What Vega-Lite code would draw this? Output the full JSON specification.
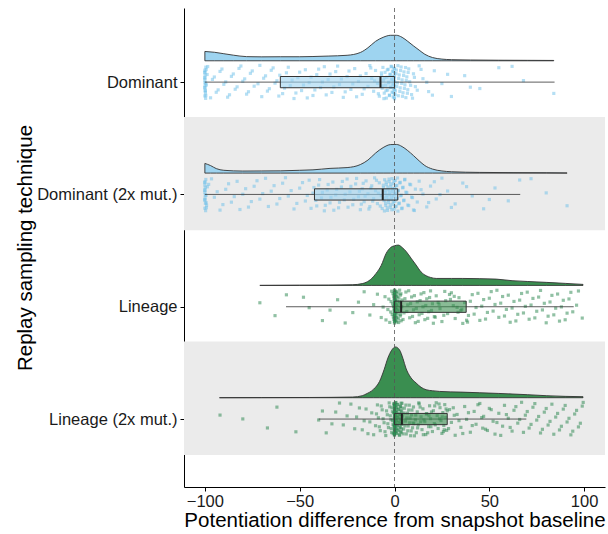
{
"$schema":"https://vega.github.io/schema/vega-lite/v6.json",
"width":421,"height":479,
"autosize":{"type":"none"},
"padding":{"left":184,"top":8,"right":3,"bottom":47},
"background":"white",
"config":{"view":{"stroke":null},"font":"Liberation Sans"},
"datasets":{
"bands":[{"cat":"Dominant (2x mut.)"},{"cat":"Lineage (2x mut.)"}],
"boxes":[
{"cat":"Dominant","lo":-100,"q1":-60.2,"med":-7.4,"q3":0,"hi":84.4},
{"cat":"Dominant (2x mut.)","lo":-100,"q1":-42.2,"med":-6.2,"q3":1.7,"hi":66.3},
{"cat":"Lineage","lo":-57.2,"q1":0,"med":3.5,"q3":37.8,"hi":94.5},
{"cat":"Lineage (2x mut.)","lo":-40,"q1":0,"med":3.9,"q3":27.8,"hi":69.5}],
"density":[
{"cat":"Dominant","x":-100,"d":0.0083},{"cat":"Dominant","x":-95,"d":0.0076},{"cat":"Dominant","x":-90,"d":0.0063},{"cat":"Dominant","x":-85,"d":0.005},{"cat":"Dominant","x":-78,"d":0.0037},{"cat":"Dominant","x":-70,"d":0.0035},{"cat":"Dominant","x":-60,"d":0.0036},{"cat":"Dominant","x":-50,"d":0.0036},{"cat":"Dominant","x":-43,"d":0.0038},{"cat":"Dominant","x":-35,"d":0.0042},{"cat":"Dominant","x":-25,"d":0.0049},{"cat":"Dominant","x":-18,"d":0.0074},{"cat":"Dominant","x":-14,"d":0.0116},{"cat":"Dominant","x":-10,"d":0.0173},{"cat":"Dominant","x":-6,"d":0.0209},{"cat":"Dominant","x":-2,"d":0.0227},{"cat":"Dominant","x":1,"d":0.0227},{"cat":"Dominant","x":4,"d":0.0209},{"cat":"Dominant","x":7,"d":0.0173},{"cat":"Dominant","x":10,"d":0.0133},{"cat":"Dominant","x":13,"d":0.0095},{"cat":"Dominant","x":16,"d":0.0058},{"cat":"Dominant","x":20,"d":0.0029},{"cat":"Dominant","x":25,"d":0.0015},{"cat":"Dominant","x":30,"d":0.001},{"cat":"Dominant","x":40,"d":0.0007},{"cat":"Dominant","x":55,"d":0.0005},{"cat":"Dominant","x":70,"d":0.0004},{"cat":"Dominant","x":84,"d":0.0003},
{"cat":"Dominant (2x mut.)","x":-100,"d":0.0086},{"cat":"Dominant (2x mut.)","x":-97,"d":0.0067},{"cat":"Dominant (2x mut.)","x":-94,"d":0.004},{"cat":"Dominant (2x mut.)","x":-90,"d":0.0025},{"cat":"Dominant (2x mut.)","x":-80,"d":0.0018},{"cat":"Dominant (2x mut.)","x":-70,"d":0.0019},{"cat":"Dominant (2x mut.)","x":-60,"d":0.002},{"cat":"Dominant (2x mut.)","x":-50,"d":0.0025},{"cat":"Dominant (2x mut.)","x":-43,"d":0.0029},{"cat":"Dominant (2x mut.)","x":-34,"d":0.0042},{"cat":"Dominant (2x mut.)","x":-25,"d":0.0049},{"cat":"Dominant (2x mut.)","x":-18,"d":0.0076},{"cat":"Dominant (2x mut.)","x":-14,"d":0.0116},{"cat":"Dominant (2x mut.)","x":-10,"d":0.0178},{"cat":"Dominant (2x mut.)","x":-6,"d":0.0227},{"cat":"Dominant (2x mut.)","x":-2,"d":0.0254},{"cat":"Dominant (2x mut.)","x":1,"d":0.0255},{"cat":"Dominant (2x mut.)","x":4,"d":0.0236},{"cat":"Dominant (2x mut.)","x":7,"d":0.02},{"cat":"Dominant (2x mut.)","x":10,"d":0.0156},{"cat":"Dominant (2x mut.)","x":13,"d":0.0109},{"cat":"Dominant (2x mut.)","x":16,"d":0.0067},{"cat":"Dominant (2x mut.)","x":20,"d":0.0036},{"cat":"Dominant (2x mut.)","x":25,"d":0.0019},{"cat":"Dominant (2x mut.)","x":30,"d":0.0012},{"cat":"Dominant (2x mut.)","x":45,"d":0.0006},{"cat":"Dominant (2x mut.)","x":63,"d":0.0004},{"cat":"Dominant (2x mut.)","x":80,"d":0.0003},{"cat":"Dominant (2x mut.)","x":91,"d":0.0001},
{"cat":"Lineage","x":-71,"d":0},{"cat":"Lineage","x":-50,"d":0.0002},{"cat":"Lineage","x":-35,"d":0.0003},{"cat":"Lineage","x":-22,"d":0.0006},{"cat":"Lineage","x":-17,"d":0.0016},{"cat":"Lineage","x":-15,"d":0.0027},{"cat":"Lineage","x":-12,"d":0.0062},{"cat":"Lineage","x":-9.7,"d":0.0107},{"cat":"Lineage","x":-7,"d":0.0178},{"cat":"Lineage","x":-4.4,"d":0.0285},{"cat":"Lineage","x":-2,"d":0.0338},{"cat":"Lineage","x":0,"d":0.0353},{"cat":"Lineage","x":2,"d":0.0359},{"cat":"Lineage","x":4,"d":0.0338},{"cat":"Lineage","x":6,"d":0.0305},{"cat":"Lineage","x":9,"d":0.0236},{"cat":"Lineage","x":11.4,"d":0.0181},{"cat":"Lineage","x":14,"d":0.012},{"cat":"Lineage","x":16.7,"d":0.0086},{"cat":"Lineage","x":19,"d":0.0071},{"cat":"Lineage","x":22,"d":0.0062},{"cat":"Lineage","x":30,"d":0.0062},{"cat":"Lineage","x":36,"d":0.0062},{"cat":"Lineage","x":45,"d":0.006},{"cat":"Lineage","x":53.6,"d":0.0056},{"cat":"Lineage","x":62,"d":0.0042},{"cat":"Lineage","x":70,"d":0.0035},{"cat":"Lineage","x":80,"d":0.0027},{"cat":"Lineage","x":90,"d":0.0018},{"cat":"Lineage","x":99.4,"d":0.0009},
{"cat":"Lineage (2x mut.)","x":-92.3,"d":0},{"cat":"Lineage (2x mut.)","x":-70,"d":0.0001},{"cat":"Lineage (2x mut.)","x":-45,"d":0.0002},{"cat":"Lineage (2x mut.)","x":-22,"d":0.0006},{"cat":"Lineage (2x mut.)","x":-17,"d":0.0018},{"cat":"Lineage (2x mut.)","x":-15,"d":0.0033},{"cat":"Lineage (2x mut.)","x":-11,"d":0.0076},{"cat":"Lineage (2x mut.)","x":-7.9,"d":0.0145},{"cat":"Lineage (2x mut.)","x":-5.5,"d":0.0249},{"cat":"Lineage (2x mut.)","x":-3.5,"d":0.0353},{"cat":"Lineage (2x mut.)","x":-1.5,"d":0.0423},{"cat":"Lineage (2x mut.)","x":0.5,"d":0.0452},{"cat":"Lineage (2x mut.)","x":2.6,"d":0.0427},{"cat":"Lineage (2x mut.)","x":4.5,"d":0.0347},{"cat":"Lineage (2x mut.)","x":6,"d":0.0264},{"cat":"Lineage (2x mut.)","x":8.5,"d":0.0182},{"cat":"Lineage (2x mut.)","x":11.4,"d":0.0131},{"cat":"Lineage (2x mut.)","x":14,"d":0.0093},{"cat":"Lineage (2x mut.)","x":16.7,"d":0.0071},{"cat":"Lineage (2x mut.)","x":20,"d":0.0062},{"cat":"Lineage (2x mut.)","x":23.7,"d":0.0056},{"cat":"Lineage (2x mut.)","x":35,"d":0.005},{"cat":"Lineage (2x mut.)","x":45,"d":0.0044},{"cat":"Lineage (2x mut.)","x":55,"d":0.0038},{"cat":"Lineage (2x mut.)","x":62,"d":0.0033},{"cat":"Lineage (2x mut.)","x":70,"d":0.0027},{"cat":"Lineage (2x mut.)","x":80,"d":0.0018},{"cat":"Lineage (2x mut.)","x":90,"d":0.0012},{"cat":"Lineage (2x mut.)","x":99.4,"d":0.0009}],
"points":[
{"cat":"Dominant","x":-100},{"cat":"Dominant","x":-99.8},{"cat":"Dominant","x":-100},{"cat":"Dominant","x":-99.6},{"cat":"Dominant","x":-100},{"cat":"Dominant","x":-99.9},{"cat":"Dominant","x":-100},{"cat":"Dominant","x":-99.5},{"cat":"Dominant","x":-100},{"cat":"Dominant","x":-99.7},{"cat":"Dominant","x":-100},{"cat":"Dominant","x":-99.2},
{"cat":"Dominant","x":-97},{"cat":"Dominant","x":-95},{"cat":"Dominant","x":-93},{"cat":"Dominant","x":-91},{"cat":"Dominant","x":-89},{"cat":"Dominant","x":-87},{"cat":"Dominant","x":-85},{"cat":"Dominant","x":-83},{"cat":"Dominant","x":-81},{"cat":"Dominant","x":-79},{"cat":"Dominant","x":-77},{"cat":"Dominant","x":-75},{"cat":"Dominant","x":-72},{"cat":"Dominant","x":-70},{"cat":"Dominant","x":-68},{"cat":"Dominant","x":-66},{"cat":"Dominant","x":-64},{"cat":"Dominant","x":-62},
{"cat":"Dominant","x":-59},{"cat":"Dominant","x":-57},{"cat":"Dominant","x":-55},{"cat":"Dominant","x":-53},{"cat":"Dominant","x":-51},{"cat":"Dominant","x":-49},{"cat":"Dominant","x":-47},{"cat":"Dominant","x":-45},{"cat":"Dominant","x":-43},{"cat":"Dominant","x":-41},{"cat":"Dominant","x":-39},{"cat":"Dominant","x":-37},{"cat":"Dominant","x":-35},{"cat":"Dominant","x":-33},{"cat":"Dominant","x":-31},{"cat":"Dominant","x":-29},{"cat":"Dominant","x":-27},{"cat":"Dominant","x":-25},{"cat":"Dominant","x":-23},{"cat":"Dominant","x":-21},{"cat":"Dominant","x":-19},{"cat":"Dominant","x":-17},{"cat":"Dominant","x":-15},{"cat":"Dominant","x":-14},{"cat":"Dominant","x":-13},{"cat":"Dominant","x":-12},{"cat":"Dominant","x":-11},{"cat":"Dominant","x":-10},{"cat":"Dominant","x":-9},{"cat":"Dominant","x":-8},
{"cat":"Dominant","x":-6.8},{"cat":"Dominant","x":-6.5},{"cat":"Dominant","x":-6.1},{"cat":"Dominant","x":-5.8},{"cat":"Dominant","x":-5.4},{"cat":"Dominant","x":-5},{"cat":"Dominant","x":-4.7},{"cat":"Dominant","x":-4.3},{"cat":"Dominant","x":-4},{"cat":"Dominant","x":-3.6},{"cat":"Dominant","x":-3.3},{"cat":"Dominant","x":-3},{"cat":"Dominant","x":-2.7},{"cat":"Dominant","x":-2.4},{"cat":"Dominant","x":-2.1},{"cat":"Dominant","x":-1.8},{"cat":"Dominant","x":-1.6},{"cat":"Dominant","x":-1.3},{"cat":"Dominant","x":-1.1},{"cat":"Dominant","x":-0.9},{"cat":"Dominant","x":-0.7},{"cat":"Dominant","x":-0.5},{"cat":"Dominant","x":-0.4},{"cat":"Dominant","x":-0.3},{"cat":"Dominant","x":-0.2},{"cat":"Dominant","x":-0.1},{"cat":"Dominant","x":0},{"cat":"Dominant","x":0},{"cat":"Dominant","x":0},{"cat":"Dominant","x":0},
{"cat":"Dominant","x":0.5},{"cat":"Dominant","x":1},{"cat":"Dominant","x":1.5},{"cat":"Dominant","x":2},{"cat":"Dominant","x":2.5},{"cat":"Dominant","x":3},{"cat":"Dominant","x":3.5},{"cat":"Dominant","x":4},{"cat":"Dominant","x":4.5},{"cat":"Dominant","x":5},{"cat":"Dominant","x":5.5},{"cat":"Dominant","x":6},{"cat":"Dominant","x":6.5},{"cat":"Dominant","x":7},{"cat":"Dominant","x":7.5},{"cat":"Dominant","x":8},{"cat":"Dominant","x":9},{"cat":"Dominant","x":10},{"cat":"Dominant","x":11},{"cat":"Dominant","x":13},{"cat":"Dominant","x":15},{"cat":"Dominant","x":18},{"cat":"Dominant","x":21},{"cat":"Dominant","x":25},{"cat":"Dominant","x":30},{"cat":"Dominant","x":37},{"cat":"Dominant","x":45},{"cat":"Dominant","x":55},{"cat":"Dominant","x":68},{"cat":"Dominant","x":84},
{"cat":"Dominant","x":-100},{"cat":"Dominant","x":-99.9},{"cat":"Dominant","x":-99.6},{"cat":"Dominant","x":-100},{"cat":"Dominant","x":-99.8},{"cat":"Dominant","x":-99.3},{"cat":"Dominant","x":-100},{"cat":"Dominant","x":-99.5},{"cat":"Dominant","x":-98.8},{"cat":"Dominant","x":-100},
{"cat":"Dominant","x":-98.5},{"cat":"Dominant","x":-96},{"cat":"Dominant","x":-94},{"cat":"Dominant","x":-92},{"cat":"Dominant","x":-90},{"cat":"Dominant","x":-88},{"cat":"Dominant","x":-86},{"cat":"Dominant","x":-84},{"cat":"Dominant","x":-82},{"cat":"Dominant","x":-80},{"cat":"Dominant","x":-78},{"cat":"Dominant","x":-76},{"cat":"Dominant","x":-74},{"cat":"Dominant","x":-71},{"cat":"Dominant","x":-69},{"cat":"Dominant","x":-67},{"cat":"Dominant","x":-65},{"cat":"Dominant","x":-63},{"cat":"Dominant","x":-61},{"cat":"Dominant","x":-60.5},
{"cat":"Dominant","x":-58},{"cat":"Dominant","x":-56},{"cat":"Dominant","x":-54},{"cat":"Dominant","x":-52},{"cat":"Dominant","x":-50},{"cat":"Dominant","x":-48},{"cat":"Dominant","x":-46},{"cat":"Dominant","x":-44},{"cat":"Dominant","x":-42},{"cat":"Dominant","x":-40},{"cat":"Dominant","x":-38},{"cat":"Dominant","x":-36},{"cat":"Dominant","x":-34},{"cat":"Dominant","x":-32},{"cat":"Dominant","x":-30},{"cat":"Dominant","x":-28},{"cat":"Dominant","x":-26},{"cat":"Dominant","x":-24},{"cat":"Dominant","x":-22},{"cat":"Dominant","x":-20},{"cat":"Dominant","x":-18},{"cat":"Dominant","x":-16},{"cat":"Dominant","x":-12.5},{"cat":"Dominant","x":-10.5},{"cat":"Dominant","x":-8.5},
{"cat":"Dominant","x":-6.9},{"cat":"Dominant","x":-6.3},{"cat":"Dominant","x":-5.6},{"cat":"Dominant","x":-5.2},{"cat":"Dominant","x":-4.5},{"cat":"Dominant","x":-3.8},{"cat":"Dominant","x":-3.1},{"cat":"Dominant","x":-2.6},{"cat":"Dominant","x":-2.2},{"cat":"Dominant","x":-1.9},{"cat":"Dominant","x":-1.5},{"cat":"Dominant","x":-1.2},{"cat":"Dominant","x":-0.8},{"cat":"Dominant","x":-0.6},{"cat":"Dominant","x":-0.3},{"cat":"Dominant","x":-0.15},{"cat":"Dominant","x":0},{"cat":"Dominant","x":0},{"cat":"Dominant","x":0},{"cat":"Dominant","x":0},
{"cat":"Dominant","x":0.3},{"cat":"Dominant","x":0.8},{"cat":"Dominant","x":1.2},{"cat":"Dominant","x":1.8},{"cat":"Dominant","x":2.2},{"cat":"Dominant","x":2.8},{"cat":"Dominant","x":3.2},{"cat":"Dominant","x":3.8},{"cat":"Dominant","x":4.2},{"cat":"Dominant","x":4.8},{"cat":"Dominant","x":5.2},{"cat":"Dominant","x":5.8},{"cat":"Dominant","x":6.2},{"cat":"Dominant","x":6.8},{"cat":"Dominant","x":7.2},{"cat":"Dominant","x":8.5},{"cat":"Dominant","x":9.5},{"cat":"Dominant","x":10.5},{"cat":"Dominant","x":12},{"cat":"Dominant","x":14},{"cat":"Dominant","x":17},{"cat":"Dominant","x":20},{"cat":"Dominant","x":28},{"cat":"Dominant","x":40},{"cat":"Dominant","x":62},
{"cat":"Dominant (2x mut.)","x":-100},{"cat":"Dominant (2x mut.)","x":-99.7},{"cat":"Dominant (2x mut.)","x":-100},{"cat":"Dominant (2x mut.)","x":-99.4},{"cat":"Dominant (2x mut.)","x":-100},{"cat":"Dominant (2x mut.)","x":-99.8},{"cat":"Dominant (2x mut.)","x":-100},{"cat":"Dominant (2x mut.)","x":-99.5},{"cat":"Dominant (2x mut.)","x":-100},{"cat":"Dominant (2x mut.)","x":-99.1},
{"cat":"Dominant (2x mut.)","x":-98},{"cat":"Dominant (2x mut.)","x":-95},{"cat":"Dominant (2x mut.)","x":-92},{"cat":"Dominant (2x mut.)","x":-89},{"cat":"Dominant (2x mut.)","x":-86},{"cat":"Dominant (2x mut.)","x":-83},{"cat":"Dominant (2x mut.)","x":-80},{"cat":"Dominant (2x mut.)","x":-77},{"cat":"Dominant (2x mut.)","x":-74},{"cat":"Dominant (2x mut.)","x":-71},{"cat":"Dominant (2x mut.)","x":-68},{"cat":"Dominant (2x mut.)","x":-65},{"cat":"Dominant (2x mut.)","x":-62},{"cat":"Dominant (2x mut.)","x":-59},{"cat":"Dominant (2x mut.)","x":-56},{"cat":"Dominant (2x mut.)","x":-53},{"cat":"Dominant (2x mut.)","x":-50},{"cat":"Dominant (2x mut.)","x":-47},{"cat":"Dominant (2x mut.)","x":-45},{"cat":"Dominant (2x mut.)","x":-43},
{"cat":"Dominant (2x mut.)","x":-41},{"cat":"Dominant (2x mut.)","x":-40},{"cat":"Dominant (2x mut.)","x":-38.5},{"cat":"Dominant (2x mut.)","x":-37},{"cat":"Dominant (2x mut.)","x":-35.5},{"cat":"Dominant (2x mut.)","x":-34},{"cat":"Dominant (2x mut.)","x":-32.5},{"cat":"Dominant (2x mut.)","x":-31},{"cat":"Dominant (2x mut.)","x":-29.5},{"cat":"Dominant (2x mut.)","x":-28},{"cat":"Dominant (2x mut.)","x":-26.5},{"cat":"Dominant (2x mut.)","x":-25},{"cat":"Dominant (2x mut.)","x":-23.5},{"cat":"Dominant (2x mut.)","x":-22},{"cat":"Dominant (2x mut.)","x":-20.5},{"cat":"Dominant (2x mut.)","x":-19},{"cat":"Dominant (2x mut.)","x":-18},{"cat":"Dominant (2x mut.)","x":-17},{"cat":"Dominant (2x mut.)","x":-16},{"cat":"Dominant (2x mut.)","x":-15},{"cat":"Dominant (2x mut.)","x":-14},{"cat":"Dominant (2x mut.)","x":-13},{"cat":"Dominant (2x mut.)","x":-12},{"cat":"Dominant (2x mut.)","x":-11},{"cat":"Dominant (2x mut.)","x":-10.5},{"cat":"Dominant (2x mut.)","x":-10},{"cat":"Dominant (2x mut.)","x":-9},{"cat":"Dominant (2x mut.)","x":-8},{"cat":"Dominant (2x mut.)","x":-7},{"cat":"Dominant (2x mut.)","x":-6.5},
{"cat":"Dominant (2x mut.)","x":-5.8},{"cat":"Dominant (2x mut.)","x":-5.5},{"cat":"Dominant (2x mut.)","x":-5.2},{"cat":"Dominant (2x mut.)","x":-4.9},{"cat":"Dominant (2x mut.)","x":-4.6},{"cat":"Dominant (2x mut.)","x":-4.3},{"cat":"Dominant (2x mut.)","x":-4},{"cat":"Dominant (2x mut.)","x":-3.7},{"cat":"Dominant (2x mut.)","x":-3.4},{"cat":"Dominant (2x mut.)","x":-3.1},{"cat":"Dominant (2x mut.)","x":-2.8},{"cat":"Dominant (2x mut.)","x":-2.5},{"cat":"Dominant (2x mut.)","x":-2.2},{"cat":"Dominant (2x mut.)","x":-1.9},{"cat":"Dominant (2x mut.)","x":-1.6},{"cat":"Dominant (2x mut.)","x":-1.3},{"cat":"Dominant (2x mut.)","x":-1},{"cat":"Dominant (2x mut.)","x":-0.8},{"cat":"Dominant (2x mut.)","x":-0.6},{"cat":"Dominant (2x mut.)","x":-0.4},{"cat":"Dominant (2x mut.)","x":-0.2},{"cat":"Dominant (2x mut.)","x":0},{"cat":"Dominant (2x mut.)","x":0.2},{"cat":"Dominant (2x mut.)","x":0.4},{"cat":"Dominant (2x mut.)","x":0.6},{"cat":"Dominant (2x mut.)","x":0.9},{"cat":"Dominant (2x mut.)","x":1.2},{"cat":"Dominant (2x mut.)","x":1.5},{"cat":"Dominant (2x mut.)","x":1.8},{"cat":"Dominant (2x mut.)","x":2},
{"cat":"Dominant (2x mut.)","x":2.5},{"cat":"Dominant (2x mut.)","x":3},{"cat":"Dominant (2x mut.)","x":3.5},{"cat":"Dominant (2x mut.)","x":4},{"cat":"Dominant (2x mut.)","x":4.5},{"cat":"Dominant (2x mut.)","x":5},{"cat":"Dominant (2x mut.)","x":5.5},{"cat":"Dominant (2x mut.)","x":6},{"cat":"Dominant (2x mut.)","x":7},{"cat":"Dominant (2x mut.)","x":8},{"cat":"Dominant (2x mut.)","x":9},{"cat":"Dominant (2x mut.)","x":10},{"cat":"Dominant (2x mut.)","x":11},{"cat":"Dominant (2x mut.)","x":12},{"cat":"Dominant (2x mut.)","x":13},{"cat":"Dominant (2x mut.)","x":15},{"cat":"Dominant (2x mut.)","x":17},{"cat":"Dominant (2x mut.)","x":19},{"cat":"Dominant (2x mut.)","x":22},{"cat":"Dominant (2x mut.)","x":25},{"cat":"Dominant (2x mut.)","x":28},{"cat":"Dominant (2x mut.)","x":32},{"cat":"Dominant (2x mut.)","x":36},{"cat":"Dominant (2x mut.)","x":41},{"cat":"Dominant (2x mut.)","x":47},{"cat":"Dominant (2x mut.)","x":53},{"cat":"Dominant (2x mut.)","x":60},{"cat":"Dominant (2x mut.)","x":66},{"cat":"Dominant (2x mut.)","x":80},{"cat":"Dominant (2x mut.)","x":91},
{"cat":"Dominant (2x mut.)","x":-100},{"cat":"Dominant (2x mut.)","x":-99.9},{"cat":"Dominant (2x mut.)","x":-99.6},{"cat":"Dominant (2x mut.)","x":-100},{"cat":"Dominant (2x mut.)","x":-99.3},{"cat":"Dominant (2x mut.)","x":-100},{"cat":"Dominant (2x mut.)","x":-99.8},{"cat":"Dominant (2x mut.)","x":-99.2},{"cat":"Dominant (2x mut.)","x":-98.7},{"cat":"Dominant (2x mut.)","x":-100},
{"cat":"Dominant (2x mut.)","x":-96.5},{"cat":"Dominant (2x mut.)","x":-93.5},{"cat":"Dominant (2x mut.)","x":-90.5},{"cat":"Dominant (2x mut.)","x":-87.5},{"cat":"Dominant (2x mut.)","x":-84.5},{"cat":"Dominant (2x mut.)","x":-81.5},{"cat":"Dominant (2x mut.)","x":-78.5},{"cat":"Dominant (2x mut.)","x":-75.5},{"cat":"Dominant (2x mut.)","x":-72.5},{"cat":"Dominant (2x mut.)","x":-69.5},{"cat":"Dominant (2x mut.)","x":-66.5},{"cat":"Dominant (2x mut.)","x":-63.5},{"cat":"Dominant (2x mut.)","x":-60.5},{"cat":"Dominant (2x mut.)","x":-57.5},{"cat":"Dominant (2x mut.)","x":-54.5},{"cat":"Dominant (2x mut.)","x":-51.5},{"cat":"Dominant (2x mut.)","x":-48.5},{"cat":"Dominant (2x mut.)","x":-46},{"cat":"Dominant (2x mut.)","x":-44},{"cat":"Dominant (2x mut.)","x":-42.5},
{"cat":"Dominant (2x mut.)","x":-41.5},{"cat":"Dominant (2x mut.)","x":-39.5},{"cat":"Dominant (2x mut.)","x":-38},{"cat":"Dominant (2x mut.)","x":-36.5},{"cat":"Dominant (2x mut.)","x":-35},{"cat":"Dominant (2x mut.)","x":-33.5},{"cat":"Dominant (2x mut.)","x":-32},{"cat":"Dominant (2x mut.)","x":-30.5},{"cat":"Dominant (2x mut.)","x":-29},{"cat":"Dominant (2x mut.)","x":-27.5},{"cat":"Dominant (2x mut.)","x":-26},{"cat":"Dominant (2x mut.)","x":-24.5},{"cat":"Dominant (2x mut.)","x":-23},{"cat":"Dominant (2x mut.)","x":-21.5},{"cat":"Dominant (2x mut.)","x":-20},{"cat":"Dominant (2x mut.)","x":-18.5},{"cat":"Dominant (2x mut.)","x":-17.5},{"cat":"Dominant (2x mut.)","x":-16.5},{"cat":"Dominant (2x mut.)","x":-15.5},{"cat":"Dominant (2x mut.)","x":-13.5},{"cat":"Dominant (2x mut.)","x":-12.5},{"cat":"Dominant (2x mut.)","x":-11.5},{"cat":"Dominant (2x mut.)","x":-9.5},{"cat":"Dominant (2x mut.)","x":-8.5},{"cat":"Dominant (2x mut.)","x":-7.5},
{"cat":"Dominant (2x mut.)","x":-5.9},{"cat":"Dominant (2x mut.)","x":-5.6},{"cat":"Dominant (2x mut.)","x":-5.3},{"cat":"Dominant (2x mut.)","x":-5},{"cat":"Dominant (2x mut.)","x":-4.7},{"cat":"Dominant (2x mut.)","x":-4.4},{"cat":"Dominant (2x mut.)","x":-4.1},{"cat":"Dominant (2x mut.)","x":-3.8},{"cat":"Dominant (2x mut.)","x":-3.5},{"cat":"Dominant (2x mut.)","x":-3.2},{"cat":"Dominant (2x mut.)","x":-2.9},{"cat":"Dominant (2x mut.)","x":-2.6},{"cat":"Dominant (2x mut.)","x":-2.3},{"cat":"Dominant (2x mut.)","x":-2},{"cat":"Dominant (2x mut.)","x":-1.7},{"cat":"Dominant (2x mut.)","x":-1.4},{"cat":"Dominant (2x mut.)","x":-1.1},{"cat":"Dominant (2x mut.)","x":-0.7},{"cat":"Dominant (2x mut.)","x":-0.3},{"cat":"Dominant (2x mut.)","x":0},{"cat":"Dominant (2x mut.)","x":0.3},{"cat":"Dominant (2x mut.)","x":0.7},{"cat":"Dominant (2x mut.)","x":1.1},{"cat":"Dominant (2x mut.)","x":1.6},{"cat":"Dominant (2x mut.)","x":1.9},
{"cat":"Dominant (2x mut.)","x":2.3},{"cat":"Dominant (2x mut.)","x":2.8},{"cat":"Dominant (2x mut.)","x":3.3},{"cat":"Dominant (2x mut.)","x":3.8},{"cat":"Dominant (2x mut.)","x":4.3},{"cat":"Dominant (2x mut.)","x":4.8},{"cat":"Dominant (2x mut.)","x":5.3},{"cat":"Dominant (2x mut.)","x":6.5},{"cat":"Dominant (2x mut.)","x":7.5},{"cat":"Dominant (2x mut.)","x":8.5},{"cat":"Dominant (2x mut.)","x":9.5},{"cat":"Dominant (2x mut.)","x":10.5},{"cat":"Dominant (2x mut.)","x":14},{"cat":"Dominant (2x mut.)","x":18},{"cat":"Dominant (2x mut.)","x":21},{"cat":"Dominant (2x mut.)","x":24},{"cat":"Dominant (2x mut.)","x":30},{"cat":"Dominant (2x mut.)","x":38},{"cat":"Dominant (2x mut.)","x":50},{"cat":"Dominant (2x mut.)","x":72},
{"cat":"Lineage","x":-71},{"cat":"Lineage","x":-63},{"cat":"Lineage","x":-57},{"cat":"Lineage","x":-45},{"cat":"Lineage","x":-38},{"cat":"Lineage","x":-30},{"cat":"Lineage","x":-22},{"cat":"Lineage","x":-16},{"cat":"Lineage","x":-11},{"cat":"Lineage","x":-7},{"cat":"Lineage","x":-5},{"cat":"Lineage","x":-3.5},{"cat":"Lineage","x":-2.5},{"cat":"Lineage","x":-1.8},{"cat":"Lineage","x":-1.2},{"cat":"Lineage","x":-0.8},{"cat":"Lineage","x":-0.5},{"cat":"Lineage","x":-0.3},{"cat":"Lineage","x":-0.2},{"cat":"Lineage","x":-0.1},{"cat":"Lineage","x":0},{"cat":"Lineage","x":0},{"cat":"Lineage","x":0},{"cat":"Lineage","x":0},{"cat":"Lineage","x":0},{"cat":"Lineage","x":0},{"cat":"Lineage","x":0},{"cat":"Lineage","x":0},{"cat":"Lineage","x":0},{"cat":"Lineage","x":0},
{"cat":"Lineage","x":0},{"cat":"Lineage","x":0},{"cat":"Lineage","x":0},{"cat":"Lineage","x":0},{"cat":"Lineage","x":0},{"cat":"Lineage","x":0.1},{"cat":"Lineage","x":0.2},{"cat":"Lineage","x":0.3},{"cat":"Lineage","x":0.4},{"cat":"Lineage","x":0.5},{"cat":"Lineage","x":0.6},{"cat":"Lineage","x":0.7},{"cat":"Lineage","x":0.8},{"cat":"Lineage","x":0.9},{"cat":"Lineage","x":1},{"cat":"Lineage","x":1.1},{"cat":"Lineage","x":1.2},{"cat":"Lineage","x":1.4},{"cat":"Lineage","x":1.6},{"cat":"Lineage","x":1.8},{"cat":"Lineage","x":2},{"cat":"Lineage","x":2.1},{"cat":"Lineage","x":2.3},{"cat":"Lineage","x":2.5},{"cat":"Lineage","x":2.7},{"cat":"Lineage","x":2.9},{"cat":"Lineage","x":3},{"cat":"Lineage","x":3.1},{"cat":"Lineage","x":3.3},{"cat":"Lineage","x":3.5},
{"cat":"Lineage","x":4},{"cat":"Lineage","x":5},{"cat":"Lineage","x":6},{"cat":"Lineage","x":7},{"cat":"Lineage","x":8},{"cat":"Lineage","x":9},{"cat":"Lineage","x":10},{"cat":"Lineage","x":11},{"cat":"Lineage","x":12},{"cat":"Lineage","x":13},{"cat":"Lineage","x":14},{"cat":"Lineage","x":15},{"cat":"Lineage","x":16},{"cat":"Lineage","x":17},{"cat":"Lineage","x":18},{"cat":"Lineage","x":19},{"cat":"Lineage","x":20},{"cat":"Lineage","x":21},{"cat":"Lineage","x":22},{"cat":"Lineage","x":24},{"cat":"Lineage","x":25},{"cat":"Lineage","x":27},{"cat":"Lineage","x":28},{"cat":"Lineage","x":30},{"cat":"Lineage","x":31},{"cat":"Lineage","x":32},{"cat":"Lineage","x":34},{"cat":"Lineage","x":35},{"cat":"Lineage","x":36},{"cat":"Lineage","x":37},
{"cat":"Lineage","x":39},{"cat":"Lineage","x":41},{"cat":"Lineage","x":43},{"cat":"Lineage","x":45},{"cat":"Lineage","x":47},{"cat":"Lineage","x":49},{"cat":"Lineage","x":51},{"cat":"Lineage","x":53},{"cat":"Lineage","x":55},{"cat":"Lineage","x":57},{"cat":"Lineage","x":59},{"cat":"Lineage","x":61},{"cat":"Lineage","x":63},{"cat":"Lineage","x":65},{"cat":"Lineage","x":67},{"cat":"Lineage","x":69},{"cat":"Lineage","x":71},{"cat":"Lineage","x":73},{"cat":"Lineage","x":75},{"cat":"Lineage","x":77},{"cat":"Lineage","x":79},{"cat":"Lineage","x":81},{"cat":"Lineage","x":83},{"cat":"Lineage","x":85},{"cat":"Lineage","x":87},{"cat":"Lineage","x":89},{"cat":"Lineage","x":91},{"cat":"Lineage","x":93},{"cat":"Lineage","x":96},{"cat":"Lineage","x":99},
{"cat":"Lineage","x":-48},{"cat":"Lineage","x":-34},{"cat":"Lineage","x":-26},{"cat":"Lineage","x":-19},{"cat":"Lineage","x":-13},{"cat":"Lineage","x":-9},{"cat":"Lineage","x":-6},{"cat":"Lineage","x":-4.5},{"cat":"Lineage","x":-3},{"cat":"Lineage","x":-2},{"cat":"Lineage","x":-1.5},{"cat":"Lineage","x":-1},{"cat":"Lineage","x":-0.6},{"cat":"Lineage","x":-0.4},{"cat":"Lineage","x":-0.2},{"cat":"Lineage","x":0},{"cat":"Lineage","x":0},{"cat":"Lineage","x":0},{"cat":"Lineage","x":0},{"cat":"Lineage","x":0},
{"cat":"Lineage","x":0},{"cat":"Lineage","x":0},{"cat":"Lineage","x":0},{"cat":"Lineage","x":0.05},{"cat":"Lineage","x":0.15},{"cat":"Lineage","x":0.25},{"cat":"Lineage","x":0.35},{"cat":"Lineage","x":0.45},{"cat":"Lineage","x":0.55},{"cat":"Lineage","x":0.65},{"cat":"Lineage","x":0.75},{"cat":"Lineage","x":0.95},{"cat":"Lineage","x":1.15},{"cat":"Lineage","x":1.3},{"cat":"Lineage","x":1.5},{"cat":"Lineage","x":1.7},{"cat":"Lineage","x":2.2},{"cat":"Lineage","x":2.6},{"cat":"Lineage","x":3.2},{"cat":"Lineage","x":3.4},
{"cat":"Lineage","x":3.8},{"cat":"Lineage","x":4.5},{"cat":"Lineage","x":5.5},{"cat":"Lineage","x":6.5},{"cat":"Lineage","x":7.5},{"cat":"Lineage","x":8.5},{"cat":"Lineage","x":9.5},{"cat":"Lineage","x":10.5},{"cat":"Lineage","x":11.5},{"cat":"Lineage","x":12.5},{"cat":"Lineage","x":13.5},{"cat":"Lineage","x":14.5},{"cat":"Lineage","x":15.5},{"cat":"Lineage","x":16.5},{"cat":"Lineage","x":17.5},{"cat":"Lineage","x":18.5},{"cat":"Lineage","x":19.5},{"cat":"Lineage","x":20.5},{"cat":"Lineage","x":23},{"cat":"Lineage","x":26},{"cat":"Lineage","x":29},{"cat":"Lineage","x":33},{"cat":"Lineage","x":38},{"cat":"Lineage","x":29.5},{"cat":"Lineage","x":33.5},{"cat":"Lineage","x":26.5},{"cat":"Lineage","x":23.5},{"cat":"Lineage","x":21.5},{"cat":"Lineage","x":31.5},{"cat":"Lineage","x":35.5},
{"cat":"Lineage","x":38.5},{"cat":"Lineage","x":40},{"cat":"Lineage","x":42},{"cat":"Lineage","x":44},{"cat":"Lineage","x":46},{"cat":"Lineage","x":48},{"cat":"Lineage","x":50},{"cat":"Lineage","x":52},{"cat":"Lineage","x":54},{"cat":"Lineage","x":56},{"cat":"Lineage","x":58},{"cat":"Lineage","x":60},{"cat":"Lineage","x":62},{"cat":"Lineage","x":64},{"cat":"Lineage","x":66},{"cat":"Lineage","x":68},{"cat":"Lineage","x":70},{"cat":"Lineage","x":72},{"cat":"Lineage","x":74},{"cat":"Lineage","x":76},{"cat":"Lineage","x":78},{"cat":"Lineage","x":80},{"cat":"Lineage","x":82},{"cat":"Lineage","x":84},{"cat":"Lineage","x":86},{"cat":"Lineage","x":88},{"cat":"Lineage","x":90},{"cat":"Lineage","x":92},{"cat":"Lineage","x":94},{"cat":"Lineage","x":97},
{"cat":"Lineage (2x mut.)","x":-92},{"cat":"Lineage (2x mut.)","x":-67},{"cat":"Lineage (2x mut.)","x":-62},{"cat":"Lineage (2x mut.)","x":-40},{"cat":"Lineage (2x mut.)","x":-36},{"cat":"Lineage (2x mut.)","x":-31},{"cat":"Lineage (2x mut.)","x":-27},{"cat":"Lineage (2x mut.)","x":-23},{"cat":"Lineage (2x mut.)","x":-20},{"cat":"Lineage (2x mut.)","x":-17},{"cat":"Lineage (2x mut.)","x":-15},{"cat":"Lineage (2x mut.)","x":-13},{"cat":"Lineage (2x mut.)","x":-11},{"cat":"Lineage (2x mut.)","x":-9.5},{"cat":"Lineage (2x mut.)","x":-8},{"cat":"Lineage (2x mut.)","x":-7},{"cat":"Lineage (2x mut.)","x":-6},{"cat":"Lineage (2x mut.)","x":-5},{"cat":"Lineage (2x mut.)","x":-4.2},{"cat":"Lineage (2x mut.)","x":-3.5},{"cat":"Lineage (2x mut.)","x":-2.8},{"cat":"Lineage (2x mut.)","x":-2.2},{"cat":"Lineage (2x mut.)","x":-1.7},{"cat":"Lineage (2x mut.)","x":-1.3},{"cat":"Lineage (2x mut.)","x":-1},{"cat":"Lineage (2x mut.)","x":-0.7},{"cat":"Lineage (2x mut.)","x":-0.5},{"cat":"Lineage (2x mut.)","x":-0.3},{"cat":"Lineage (2x mut.)","x":-0.2},{"cat":"Lineage (2x mut.)","x":-0.1},{"cat":"Lineage (2x mut.)","x":0},{"cat":"Lineage (2x mut.)","x":0},{"cat":"Lineage (2x mut.)","x":0},{"cat":"Lineage (2x mut.)","x":0},{"cat":"Lineage (2x mut.)","x":0},{"cat":"Lineage (2x mut.)","x":0},{"cat":"Lineage (2x mut.)","x":0},{"cat":"Lineage (2x mut.)","x":0},{"cat":"Lineage (2x mut.)","x":0},{"cat":"Lineage (2x mut.)","x":0},
{"cat":"Lineage (2x mut.)","x":0},{"cat":"Lineage (2x mut.)","x":0},{"cat":"Lineage (2x mut.)","x":0},{"cat":"Lineage (2x mut.)","x":0},{"cat":"Lineage (2x mut.)","x":0},{"cat":"Lineage (2x mut.)","x":0},{"cat":"Lineage (2x mut.)","x":0},{"cat":"Lineage (2x mut.)","x":0.1},{"cat":"Lineage (2x mut.)","x":0.2},{"cat":"Lineage (2x mut.)","x":0.3},{"cat":"Lineage (2x mut.)","x":0.4},{"cat":"Lineage (2x mut.)","x":0.5},{"cat":"Lineage (2x mut.)","x":0.6},{"cat":"Lineage (2x mut.)","x":0.7},{"cat":"Lineage (2x mut.)","x":0.8},{"cat":"Lineage (2x mut.)","x":0.9},{"cat":"Lineage (2x mut.)","x":1},{"cat":"Lineage (2x mut.)","x":1.1},{"cat":"Lineage (2x mut.)","x":1.2},{"cat":"Lineage (2x mut.)","x":1.3},{"cat":"Lineage (2x mut.)","x":1.4},{"cat":"Lineage (2x mut.)","x":1.5},{"cat":"Lineage (2x mut.)","x":1.7},{"cat":"Lineage (2x mut.)","x":1.9},{"cat":"Lineage (2x mut.)","x":2},{"cat":"Lineage (2x mut.)","x":2.1},{"cat":"Lineage (2x mut.)","x":2.3},{"cat":"Lineage (2x mut.)","x":2.5},{"cat":"Lineage (2x mut.)","x":2.6},{"cat":"Lineage (2x mut.)","x":2.8},{"cat":"Lineage (2x mut.)","x":3},{"cat":"Lineage (2x mut.)","x":3.1},{"cat":"Lineage (2x mut.)","x":3.2},{"cat":"Lineage (2x mut.)","x":3.3},{"cat":"Lineage (2x mut.)","x":3.4},{"cat":"Lineage (2x mut.)","x":3.5},{"cat":"Lineage (2x mut.)","x":3.6},{"cat":"Lineage (2x mut.)","x":3.7},{"cat":"Lineage (2x mut.)","x":3.8},{"cat":"Lineage (2x mut.)","x":4},
{"cat":"Lineage (2x mut.)","x":4.5},{"cat":"Lineage (2x mut.)","x":5},{"cat":"Lineage (2x mut.)","x":5.5},{"cat":"Lineage (2x mut.)","x":6},{"cat":"Lineage (2x mut.)","x":6.5},{"cat":"Lineage (2x mut.)","x":7},{"cat":"Lineage (2x mut.)","x":7.5},{"cat":"Lineage (2x mut.)","x":8},{"cat":"Lineage (2x mut.)","x":8.5},{"cat":"Lineage (2x mut.)","x":9},{"cat":"Lineage (2x mut.)","x":9.5},{"cat":"Lineage (2x mut.)","x":10},{"cat":"Lineage (2x mut.)","x":11},{"cat":"Lineage (2x mut.)","x":11.5},{"cat":"Lineage (2x mut.)","x":12},{"cat":"Lineage (2x mut.)","x":12.5},{"cat":"Lineage (2x mut.)","x":13},{"cat":"Lineage (2x mut.)","x":14},{"cat":"Lineage (2x mut.)","x":14.5},{"cat":"Lineage (2x mut.)","x":15},{"cat":"Lineage (2x mut.)","x":16},{"cat":"Lineage (2x mut.)","x":16.5},{"cat":"Lineage (2x mut.)","x":17},{"cat":"Lineage (2x mut.)","x":18},{"cat":"Lineage (2x mut.)","x":18.5},{"cat":"Lineage (2x mut.)","x":19},{"cat":"Lineage (2x mut.)","x":20},{"cat":"Lineage (2x mut.)","x":20.5},{"cat":"Lineage (2x mut.)","x":21},{"cat":"Lineage (2x mut.)","x":22},{"cat":"Lineage (2x mut.)","x":22.5},{"cat":"Lineage (2x mut.)","x":23},{"cat":"Lineage (2x mut.)","x":24},{"cat":"Lineage (2x mut.)","x":24.5},{"cat":"Lineage (2x mut.)","x":25},{"cat":"Lineage (2x mut.)","x":25.5},{"cat":"Lineage (2x mut.)","x":26},{"cat":"Lineage (2x mut.)","x":26.5},{"cat":"Lineage (2x mut.)","x":27},{"cat":"Lineage (2x mut.)","x":27.5},
{"cat":"Lineage (2x mut.)","x":29},{"cat":"Lineage (2x mut.)","x":30},{"cat":"Lineage (2x mut.)","x":32},{"cat":"Lineage (2x mut.)","x":33},{"cat":"Lineage (2x mut.)","x":35},{"cat":"Lineage (2x mut.)","x":37},{"cat":"Lineage (2x mut.)","x":38},{"cat":"Lineage (2x mut.)","x":40},{"cat":"Lineage (2x mut.)","x":42},{"cat":"Lineage (2x mut.)","x":43},{"cat":"Lineage (2x mut.)","x":45},{"cat":"Lineage (2x mut.)","x":47},{"cat":"Lineage (2x mut.)","x":48},{"cat":"Lineage (2x mut.)","x":50},{"cat":"Lineage (2x mut.)","x":52},{"cat":"Lineage (2x mut.)","x":53},{"cat":"Lineage (2x mut.)","x":55},{"cat":"Lineage (2x mut.)","x":57},{"cat":"Lineage (2x mut.)","x":58},{"cat":"Lineage (2x mut.)","x":60},{"cat":"Lineage (2x mut.)","x":62},{"cat":"Lineage (2x mut.)","x":63},{"cat":"Lineage (2x mut.)","x":65},{"cat":"Lineage (2x mut.)","x":67},{"cat":"Lineage (2x mut.)","x":69},{"cat":"Lineage (2x mut.)","x":71},{"cat":"Lineage (2x mut.)","x":73},{"cat":"Lineage (2x mut.)","x":75},{"cat":"Lineage (2x mut.)","x":77},{"cat":"Lineage (2x mut.)","x":79},{"cat":"Lineage (2x mut.)","x":81},{"cat":"Lineage (2x mut.)","x":83},{"cat":"Lineage (2x mut.)","x":85},{"cat":"Lineage (2x mut.)","x":87},{"cat":"Lineage (2x mut.)","x":89},{"cat":"Lineage (2x mut.)","x":91},{"cat":"Lineage (2x mut.)","x":93},{"cat":"Lineage (2x mut.)","x":95},{"cat":"Lineage (2x mut.)","x":97},{"cat":"Lineage (2x mut.)","x":99},
{"cat":"Lineage (2x mut.)","x":-80},{"cat":"Lineage (2x mut.)","x":-52},{"cat":"Lineage (2x mut.)","x":-38},{"cat":"Lineage (2x mut.)","x":-33},{"cat":"Lineage (2x mut.)","x":-29},{"cat":"Lineage (2x mut.)","x":-25},{"cat":"Lineage (2x mut.)","x":-21},{"cat":"Lineage (2x mut.)","x":-18.5},{"cat":"Lineage (2x mut.)","x":-16},{"cat":"Lineage (2x mut.)","x":-14},{"cat":"Lineage (2x mut.)","x":-12},{"cat":"Lineage (2x mut.)","x":-10},{"cat":"Lineage (2x mut.)","x":-9},{"cat":"Lineage (2x mut.)","x":-8.5},{"cat":"Lineage (2x mut.)","x":-7.5},{"cat":"Lineage (2x mut.)","x":-6.5},{"cat":"Lineage (2x mut.)","x":-5.5},{"cat":"Lineage (2x mut.)","x":-4.6},{"cat":"Lineage (2x mut.)","x":-3.8},{"cat":"Lineage (2x mut.)","x":-3.2},{"cat":"Lineage (2x mut.)","x":-2.5},{"cat":"Lineage (2x mut.)","x":-1.9},{"cat":"Lineage (2x mut.)","x":-1.5},{"cat":"Lineage (2x mut.)","x":-1.1},{"cat":"Lineage (2x mut.)","x":-0.8},{"cat":"Lineage (2x mut.)","x":-0.4},{"cat":"Lineage (2x mut.)","x":0},{"cat":"Lineage (2x mut.)","x":0},{"cat":"Lineage (2x mut.)","x":0},{"cat":"Lineage (2x mut.)","x":0},
{"cat":"Lineage (2x mut.)","x":0},{"cat":"Lineage (2x mut.)","x":0},{"cat":"Lineage (2x mut.)","x":0},{"cat":"Lineage (2x mut.)","x":0},{"cat":"Lineage (2x mut.)","x":0.05},{"cat":"Lineage (2x mut.)","x":0.15},{"cat":"Lineage (2x mut.)","x":0.25},{"cat":"Lineage (2x mut.)","x":0.35},{"cat":"Lineage (2x mut.)","x":0.45},{"cat":"Lineage (2x mut.)","x":0.55},{"cat":"Lineage (2x mut.)","x":0.65},{"cat":"Lineage (2x mut.)","x":0.75},{"cat":"Lineage (2x mut.)","x":0.85},{"cat":"Lineage (2x mut.)","x":0.95},{"cat":"Lineage (2x mut.)","x":1.05},{"cat":"Lineage (2x mut.)","x":1.25},{"cat":"Lineage (2x mut.)","x":1.45},{"cat":"Lineage (2x mut.)","x":1.6},{"cat":"Lineage (2x mut.)","x":1.8},{"cat":"Lineage (2x mut.)","x":2.2},{"cat":"Lineage (2x mut.)","x":2.4},{"cat":"Lineage (2x mut.)","x":2.7},{"cat":"Lineage (2x mut.)","x":2.9},{"cat":"Lineage (2x mut.)","x":3.05},{"cat":"Lineage (2x mut.)","x":3.15},{"cat":"Lineage (2x mut.)","x":3.45},{"cat":"Lineage (2x mut.)","x":3.55},{"cat":"Lineage (2x mut.)","x":3.75},{"cat":"Lineage (2x mut.)","x":3.9},{"cat":"Lineage (2x mut.)","x":3.95},
{"cat":"Lineage (2x mut.)","x":4.2},{"cat":"Lineage (2x mut.)","x":4.8},{"cat":"Lineage (2x mut.)","x":5.2},{"cat":"Lineage (2x mut.)","x":5.8},{"cat":"Lineage (2x mut.)","x":6.2},{"cat":"Lineage (2x mut.)","x":6.8},{"cat":"Lineage (2x mut.)","x":7.2},{"cat":"Lineage (2x mut.)","x":7.8},{"cat":"Lineage (2x mut.)","x":8.2},{"cat":"Lineage (2x mut.)","x":8.8},{"cat":"Lineage (2x mut.)","x":9.2},{"cat":"Lineage (2x mut.)","x":9.8},{"cat":"Lineage (2x mut.)","x":10.5},{"cat":"Lineage (2x mut.)","x":11.2},{"cat":"Lineage (2x mut.)","x":12.2},{"cat":"Lineage (2x mut.)","x":13.5},{"cat":"Lineage (2x mut.)","x":15.5},{"cat":"Lineage (2x mut.)","x":17.5},{"cat":"Lineage (2x mut.)","x":19.5},{"cat":"Lineage (2x mut.)","x":21.5},{"cat":"Lineage (2x mut.)","x":23.5},{"cat":"Lineage (2x mut.)","x":25.2},{"cat":"Lineage (2x mut.)","x":26.2},{"cat":"Lineage (2x mut.)","x":27.2},{"cat":"Lineage (2x mut.)","x":13.8},{"cat":"Lineage (2x mut.)","x":15.2},{"cat":"Lineage (2x mut.)","x":16.8},{"cat":"Lineage (2x mut.)","x":19.2},{"cat":"Lineage (2x mut.)","x":21.2},{"cat":"Lineage (2x mut.)","x":23.8},{"cat":"Lineage (2x mut.)","x":25.8},{"cat":"Lineage (2x mut.)","x":27.8},{"cat":"Lineage (2x mut.)","x":10.2},{"cat":"Lineage (2x mut.)","x":12.8},{"cat":"Lineage (2x mut.)","x":18.2},
{"cat":"Lineage (2x mut.)","x":28.5},{"cat":"Lineage (2x mut.)","x":31},{"cat":"Lineage (2x mut.)","x":34},{"cat":"Lineage (2x mut.)","x":36},{"cat":"Lineage (2x mut.)","x":39},{"cat":"Lineage (2x mut.)","x":41},{"cat":"Lineage (2x mut.)","x":44},{"cat":"Lineage (2x mut.)","x":46},{"cat":"Lineage (2x mut.)","x":49},{"cat":"Lineage (2x mut.)","x":51},{"cat":"Lineage (2x mut.)","x":54},{"cat":"Lineage (2x mut.)","x":56},{"cat":"Lineage (2x mut.)","x":59},{"cat":"Lineage (2x mut.)","x":61},{"cat":"Lineage (2x mut.)","x":64},{"cat":"Lineage (2x mut.)","x":66},{"cat":"Lineage (2x mut.)","x":68},{"cat":"Lineage (2x mut.)","x":70},{"cat":"Lineage (2x mut.)","x":72},{"cat":"Lineage (2x mut.)","x":74},{"cat":"Lineage (2x mut.)","x":76},{"cat":"Lineage (2x mut.)","x":78},{"cat":"Lineage (2x mut.)","x":80},{"cat":"Lineage (2x mut.)","x":82},{"cat":"Lineage (2x mut.)","x":84},{"cat":"Lineage (2x mut.)","x":86},{"cat":"Lineage (2x mut.)","x":88},{"cat":"Lineage (2x mut.)","x":90},{"cat":"Lineage (2x mut.)","x":92},{"cat":"Lineage (2x mut.)","x":94},{"cat":"Lineage (2x mut.)","x":96},{"cat":"Lineage (2x mut.)","x":98},{"cat":"Lineage (2x mut.)","x":99.5},{"cat":"Lineage (2x mut.)","x":31.5},{"cat":"Lineage (2x mut.)","x":46.5}]
},
"layer":[
{"data":{"name":"bands"},
 "transform":[{"calculate":"indexof(['Lineage (2x mut.)','Lineage','Dominant (2x mut.)','Dominant'], datum.cat)+1","as":"idx"},{"calculate":"datum.idx-0.32","as":"lo"},{"calculate":"datum.idx+0.69","as":"hi"}],
 "mark":{"type":"rect","color":"#EBEBEB"},
 "encoding":{
  "x":{"datum":-111,"type":"quantitative","title":"Potentiation difference from snapshot baseline","scale":{"domain":[-111,111],"nice":false,"zero":false}},
  "x2":{"datum":111},
  "y":{"field":"lo","type":"quantitative","title":"Replay sampling technique","scale":{"domain":[0.395,4.66],"nice":false,"zero":false}},
  "y2":{"field":"hi"}}},
{"data":{"name":"points"},
 "transform":[{"calculate":"indexof(['Lineage (2x mut.)','Lineage','Dominant (2x mut.)','Dominant'], datum.cat)+1","as":"idx"},{"window":[{"op":"row_number","as":"rn"}],"groupby":["cat"]},{"calculate":"datum.idx + ((datum.rn*0.6180339887)%1 - 0.5)*0.3","as":"py"}],
 "mark":{"type":"square","size":10,"opacity":0.5,"filled":true},
 "encoding":{
  "x":{"field":"x","type":"quantitative","title":"Potentiation difference from snapshot baseline","scale":{"domain":[-111,111],"nice":false,"zero":false}},
  "y":{"field":"py","type":"quantitative","title":"Replay sampling technique","scale":{"domain":[0.395,4.66],"nice":false,"zero":false}},
  "color":{"field":"cat","type":"nominal","scale":{"domain":["Dominant","Dominant (2x mut.)","Lineage","Lineage (2x mut.)"],"range":["#6CC0EA","#6CC0EA","#23844A","#23844A"]},"legend":null}}},
{"data":{"name":"density"},
 "transform":[{"calculate":"indexof(['Lineage (2x mut.)','Lineage','Dominant (2x mut.)','Dominant'], datum.cat)+1","as":"idx"},{"calculate":"datum.idx+0.19","as":"base"},{"calculate":"datum.idx+0.19+datum.d*10","as":"top"}],
 "mark":{"type":"area","stroke":"#333333","strokeWidth":0.9,"interpolate":"monotone","opacity":1},
 "encoding":{
  "x":{"field":"x","type":"quantitative","title":"Potentiation difference from snapshot baseline","scale":{"domain":[-111,111],"nice":false,"zero":false}},
  "y":{"field":"top","type":"quantitative","title":"Replay sampling technique","scale":{"domain":[0.395,4.66],"nice":false,"zero":false}},
  "y2":{"field":"base"},
  "detail":{"field":"cat"},
  "fill":{"field":"cat","type":"nominal","scale":{"domain":["Dominant","Dominant (2x mut.)","Lineage","Lineage (2x mut.)"],"range":["#9ED4F0","#9ED4F0","#3A8E50","#3A8E50"]},"legend":null}}},
{"data":{"values":[{"v":0}]},
 "mark":{"type":"rule","color":"#555555","strokeDash":[4,3],"strokeWidth":0.8},
 "encoding":{"x":{"field":"v","type":"quantitative","title":"Potentiation difference from snapshot baseline","scale":{"domain":[-111,111],"nice":false,"zero":false}}}},
{"data":{"name":"boxes"},
 "transform":[{"calculate":"indexof(['Lineage (2x mut.)','Lineage','Dominant (2x mut.)','Dominant'], datum.cat)+1","as":"idx"}],
 "mark":{"type":"rule","color":"#333333","strokeWidth":0.8},
 "encoding":{
  "x":{"field":"lo","type":"quantitative","title":"Potentiation difference from snapshot baseline","scale":{"domain":[-111,111],"nice":false,"zero":false},
   "axis":{"values":[-100,-50,0,50,100],"grid":false,"domain":true,"domainColor":"black","domainWidth":1,"tickColor":"black","tickSize":4,"labelFontSize":16.5,"labelColor":"#1a1a1a","labelPadding":2,"titleFontSize":20.5,"titleFontWeight":"normal","titleColor":"black","titlePadding":1,"labelFont":"Liberation Sans","titleFont":"Liberation Sans"}},
  "x2":{"field":"hi"},
  "y":{"field":"idx","type":"quantitative","title":"Replay sampling technique","scale":{"domain":[0.395,4.66],"nice":false,"zero":false},
   "axis":{"values":[1,2,3,4],"labelExpr":"datum.value==4?'Dominant':datum.value==3?'Dominant (2x mut.)':datum.value==2?'Lineage':'Lineage (2x mut.)'","grid":false,"domain":true,"domainColor":"black","domainWidth":1,"tickColor":"black","tickSize":4,"labelFontSize":16.5,"labelColor":"#1a1a1a","labelPadding":3,"titleFontSize":20.5,"titleFontWeight":"normal","titleColor":"black","titlePadding":1,"labelFont":"Liberation Sans","titleFont":"Liberation Sans"}}}},
{"data":{"name":"boxes"},
 "transform":[{"calculate":"indexof(['Lineage (2x mut.)','Lineage','Dominant (2x mut.)','Dominant'], datum.cat)+1","as":"idx"},{"calculate":"datum.idx-0.05","as":"blo"},{"calculate":"datum.idx+0.05","as":"bhi"}],
 "mark":{"type":"rect","stroke":"#333333","strokeWidth":1,"fillOpacity":0.6},
 "encoding":{
  "x":{"field":"q1","type":"quantitative","title":"Potentiation difference from snapshot baseline","scale":{"domain":[-111,111],"nice":false,"zero":false}},
  "x2":{"field":"q3"},
  "y":{"field":"blo","type":"quantitative","title":"Replay sampling technique","scale":{"domain":[0.395,4.66],"nice":false,"zero":false}},
  "y2":{"field":"bhi"},
  "fill":{"field":"cat","type":"nominal","scale":{"domain":["Dominant","Dominant (2x mut.)","Lineage","Lineage (2x mut.)"],"range":["#9ED4F0","#9ED4F0","#3A8E50","#3A8E50"]},"legend":null}}},
{"data":{"name":"boxes"},
 "transform":[{"calculate":"indexof(['Lineage (2x mut.)','Lineage','Dominant (2x mut.)','Dominant'], datum.cat)+1","as":"idx"},{"calculate":"datum.idx-0.05","as":"blo"},{"calculate":"datum.idx+0.05","as":"bhi"}],
 "mark":{"type":"rule","color":"#222222","strokeWidth":2},
 "encoding":{
  "x":{"field":"med","type":"quantitative","title":"Potentiation difference from snapshot baseline","scale":{"domain":[-111,111],"nice":false,"zero":false}},
  "y":{"field":"blo","type":"quantitative","title":"Replay sampling technique","scale":{"domain":[0.395,4.66],"nice":false,"zero":false}},
  "y2":{"field":"bhi"}}}
]
}
